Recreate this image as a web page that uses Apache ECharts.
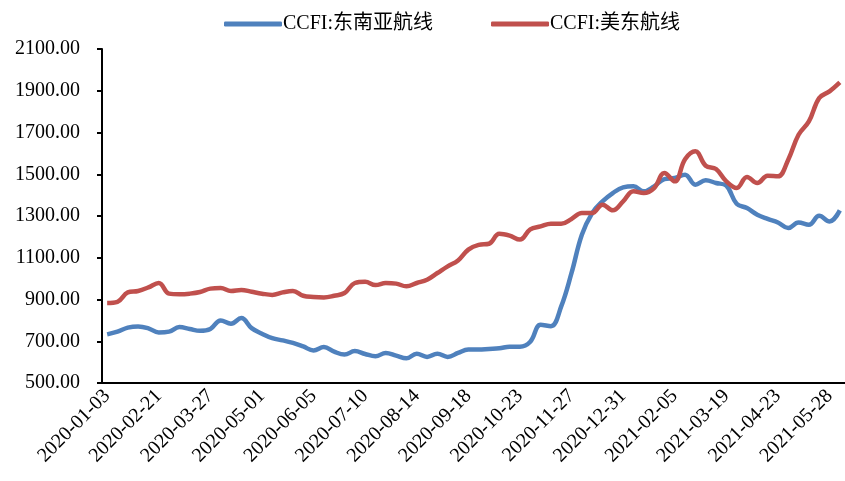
<!DOCTYPE html>
<html>
<head>
<meta charset="utf-8">
<script src="https://cdn.jsdelivr.net/npm/echarts@6/dist/echarts.min.js"></script>
<style>
  html, body { margin: 0; padding: 0; background: #ffffff; }
  #chart { width: 845px; height: 481px; }
</style>
</head>
<body>
<div id="chart"></div>
<script>
// Weekly CCFI publication dates (holiday weeks skipped)
const dates = [
  '2020-01-03','2020-01-10','2020-01-17','2020-02-07','2020-02-14','2020-02-21','2020-02-28','2020-03-06',
  '2020-03-13','2020-03-20','2020-03-27','2020-04-03','2020-04-10','2020-04-17','2020-04-24','2020-05-01',
  '2020-05-08','2020-05-15','2020-05-22','2020-05-29','2020-06-05','2020-06-12','2020-06-19','2020-06-24',
  '2020-07-03','2020-07-10','2020-07-17','2020-07-24','2020-07-31','2020-08-07','2020-08-14','2020-08-21',
  '2020-08-28','2020-09-04','2020-09-11','2020-09-18','2020-09-25','2020-09-30','2020-10-09','2020-10-16',
  '2020-10-23','2020-10-30','2020-11-06','2020-11-13','2020-11-20','2020-11-27','2020-12-04','2020-12-11',
  '2020-12-18','2020-12-25','2020-12-31','2021-01-08','2021-01-15','2021-01-22','2021-01-29','2021-02-05',
  '2021-02-19','2021-02-26','2021-03-05','2021-03-12','2021-03-19','2021-03-26','2021-04-02','2021-04-09',
  '2021-04-16','2021-04-23','2021-04-30','2021-05-07','2021-05-14','2021-05-21','2021-05-28','2021-06-04'
];

// CCFI: Southeast Asia route
const seAsia = [
  733, 746, 765, 771, 762, 742, 746, 768, 759, 750,
  759, 800, 784, 811, 763, 736, 715, 704, 692, 675,
  656, 672, 650, 636, 653, 639, 628, 644, 631, 618,
  640, 625, 640, 625, 644, 660, 660, 663, 666, 674,
  674, 698, 779, 772, 867, 1027, 1210, 1314, 1370, 1410,
  1437, 1442, 1418, 1442, 1477, 1482, 1498, 1450, 1471, 1458,
  1445, 1359, 1338, 1306, 1286, 1269, 1242, 1269, 1258, 1301,
  1274, 1327
];

// CCFI: US East Coast route
const usEast = [
  883, 889, 934, 941, 958, 979, 928, 925, 928, 936,
  952, 955, 941, 946, 937, 928, 922, 934, 941, 918,
  912, 910, 918, 931, 979, 985, 969, 979, 976, 963,
  979, 995, 1027, 1059, 1087, 1139, 1162, 1167, 1215, 1206,
  1187, 1236, 1250, 1263, 1263, 1286, 1314, 1314, 1354, 1327,
  1370, 1418, 1410, 1434, 1506, 1466, 1572, 1610, 1541, 1525,
  1466, 1434, 1487, 1458, 1493, 1490, 1570, 1689, 1753, 1865,
  1897, 1940
];

const seriesNames = ['CCFI:东南亚航线', 'CCFI:美东航线'];
const yTicks = { min: 500, max: 2100, step: 200 };

const FONT = '"Liberation Serif", "Times New Roman", "Noto Sans CJK SC", serif';
const chart = echarts.init(document.getElementById('chart'), null, { renderer: 'canvas' });

chart.setOption({
  backgroundColor: '#ffffff',
  animation: false,
  legend: {
    top: 9,
    left: 219,
    icon: 'roundRect',
    itemWidth: 58,
    itemHeight: 5,
    itemGap: 58,
    textStyle: { fontFamily: FONT, fontSize: 20, color: '#000000', padding: [0, 0, 0, -4] },
    data: seriesNames
  },
  grid: { left: 102, right: -4, top: 49, bottom: 98, containLabel: false },
  xAxis: {
    type: 'category',
    data: dates,
    boundaryGap: true,
    axisLine: { lineStyle: { color: '#000000', width: 2 } },
    axisTick: { interval: 4, length: 5, lineStyle: { color: '#000000', width: 2 } },
    axisLabel: {
      interval: 4,
      rotate: 45,
      margin: 10,
      fontFamily: FONT,
      fontSize: 20,
      color: '#000000'
    },
    splitLine: { show: false }
  },
  yAxis: {
    type: 'value',
    min: yTicks.min,
    max: yTicks.max,
    interval: yTicks.step,
    axisLine: { show: true, lineStyle: { color: '#000000', width: 2 } },
    axisTick: { show: true, length: 5, lineStyle: { color: '#000000', width: 2 } },
    axisLabel: {
      margin: 22,
      fontFamily: FONT,
      fontSize: 20,
      color: '#000000',
      formatter: v => v.toFixed(2)
    },
    splitLine: { show: false }
  },
  series: [
    {
      name: seriesNames[0],
      type: 'line',
      data: seAsia,
      smooth: 0.4,
      symbol: 'none',
      lineStyle: { color: '#4F81BD', width: 4.5 },
      itemStyle: { color: '#4F81BD' }
    },
    {
      name: seriesNames[1],
      type: 'line',
      data: usEast,
      smooth: 0.4,
      symbol: 'none',
      lineStyle: { color: '#C0504D', width: 4.5 },
      itemStyle: { color: '#C0504D' }
    }
  ]
});
</script>
</body>
</html>
